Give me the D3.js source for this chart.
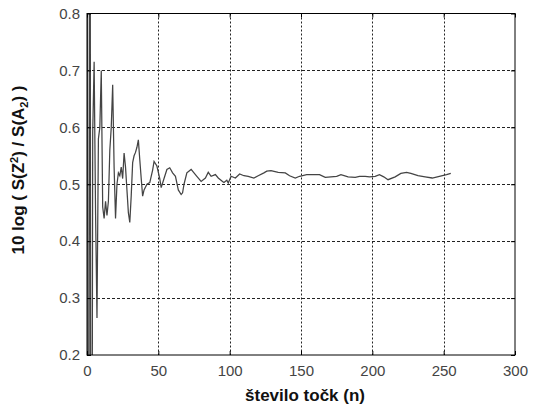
<!DOCTYPE html>
<html><head><meta charset="utf-8">
<script src="https://cdn.jsdelivr.net/npm/d3@7"></script>
<style>body{margin:0;background:#fff}svg{display:block}</style>
</head><body>
<script>
const xTicks = [0, 50, 100, 150, 200, 250, 300];
const yTicks = [0.2, 0.3, 0.4, 0.5, 0.6, 0.7, 0.8];
const nVals = [0,1,2,3,4,5,6,7,8,9,10,11,12,13,14,15,16,17,18,19,20,21,22,23,24,25,26,27,28,29,30,31,32,33,34,35,36,37,38,39,40,42,44,46,47,49,51,52,54,56,58,60,62,64,66,67,68,70,73,75,77,80,83,85,87,90,92,95,96,98,99,101,104,107,110,113,117,120,124,126,129,134,139,142,146,149,154,159,163,167,171,175,178,183,188,191,195,198,202,205,208,211,216,220,224,227,232,237,242,247,252,255];
const zVals = [1.8,-1.2,1.6,-0.9,0.59,0.715,0.45,0.265,0.58,0.60,0.70,0.46,0.44,0.47,0.445,0.47,0.56,0.60,0.675,0.53,0.44,0.50,0.52,0.515,0.53,0.51,0.555,0.53,0.49,0.45,0.433,0.48,0.538,0.55,0.556,0.565,0.578,0.543,0.51,0.479,0.49,0.50,0.503,0.525,0.54,0.532,0.51,0.494,0.51,0.526,0.529,0.52,0.514,0.49,0.482,0.485,0.50,0.52,0.526,0.52,0.514,0.505,0.511,0.521,0.514,0.517,0.511,0.505,0.503,0.507,0.502,0.514,0.511,0.518,0.515,0.514,0.511,0.515,0.52,0.523,0.524,0.521,0.52,0.515,0.511,0.514,0.517,0.517,0.517,0.512,0.513,0.514,0.517,0.513,0.512,0.514,0.514,0.513,0.514,0.517,0.513,0.508,0.513,0.519,0.521,0.519,0.515,0.513,0.511,0.514,0.517,0.519];
const xTitle = "število točk (n)";

const W = 533, H = 410;
const L = 87, R = 515, T = 13.5, B = 355;
const svg = d3.select("body").append("svg").attr("width", W).attr("height", H);
const x = d3.scaleLinear().domain([0, 300]).range([L, R]);
const y = d3.scaleLinear().domain([0.2, 0.8]).range([B, T]);

svg.append("defs").append("clipPath").attr("id", "clip")
  .append("rect").attr("x", L).attr("y", T).attr("width", R - L).attr("height", B - T);

// grid
const g = svg.append("g");
g.selectAll(".vg").data(xTicks.slice(1, -1)).enter().append("line")
  .attr("x1", d => Math.round(x(d)) + 0.5).attr("x2", d => Math.round(x(d)) + 0.5)
  .attr("y1", T).attr("y2", B)
  .attr("stroke", "#222").attr("stroke-width", 1).attr("stroke-dasharray", "2,2");
g.selectAll(".hg").data(yTicks.slice(1, -1)).enter().append("line")
  .attr("y1", d => Math.round(y(d)) + 0.5).attr("y2", d => Math.round(y(d)) + 0.5)
  .attr("x1", L).attr("x2", R)
  .attr("stroke", "#222").attr("stroke-width", 1).attr("stroke-dasharray", "3,2");

// line
const data = nVals.map((n, i) => [n, zVals[i]]);
svg.append("path").datum(data)
  .attr("clip-path", "url(#clip)")
  .attr("fill", "none").attr("stroke", "#444").attr("stroke-width", 1.25)
  .attr("d", d3.line().x(d => x(d[0])).y(d => y(d[1])));

// axes with inner ticks
const ax = svg.append("g").attr("transform", `translate(0,${B})`)
  .call(d3.axisBottom(x).tickValues(xTicks).tickSizeInner(-4).tickSizeOuter(0).tickPadding(10).tickFormat(d3.format("d")));
const ay = svg.append("g").attr("transform", `translate(${L},0)`)
  .call(d3.axisLeft(y).tickValues(yTicks).tickSizeInner(-4).tickSizeOuter(0).tickPadding(7).tickFormat(d3.format(".1f")));
svg.append("g").attr("transform", `translate(0,${T})`)
  .call(d3.axisTop(x).tickValues(xTicks).tickSizeInner(-4).tickSizeOuter(0).tickFormat(""));
svg.append("g").attr("transform", `translate(${R},0)`)
  .call(d3.axisRight(y).tickValues(yTicks).tickSizeInner(-4).tickSizeOuter(0).tickFormat(""));
svg.selectAll(".domain").remove();
svg.selectAll(".tick line").attr("stroke", "#000");
[ax, ay].forEach(a => a.selectAll("text")
  .attr("font-family", "Liberation Sans, Arial, sans-serif").attr("font-size", 15).attr("fill", "#444"));

// frame
svg.append("rect").attr("x", L).attr("y", T).attr("width", R - L).attr("height", B - T)
  .attr("fill", "none").attr("stroke", "#000").attr("stroke-width", 1);

// titles
svg.append("text").attr("x", (L + R) / 2 + 4).attr("y", 401).attr("text-anchor", "middle")
  .attr("font-family", "Liberation Sans, Arial, sans-serif").attr("font-weight", "bold").attr("font-size", 17)
  .attr("fill", "#111").text(xTitle);

const yl = svg.append("text").attr("transform", "translate(24,170) rotate(-90)").attr("text-anchor", "middle")
  .attr("font-family", "Liberation Sans, Arial, sans-serif").attr("font-weight", "bold").attr("font-size", 17)
  .attr("fill", "#111");
yl.append("tspan").text("10 log ( S(Z");
yl.append("tspan").attr("dy", -6).attr("font-size", 11).text("2");
yl.append("tspan").attr("dy", 6).text(") / S(A");
yl.append("tspan").attr("dy", 4).attr("font-size", 11).text("2");
yl.append("tspan").attr("dy", -4).text(") )");
</script>
</body></html>
